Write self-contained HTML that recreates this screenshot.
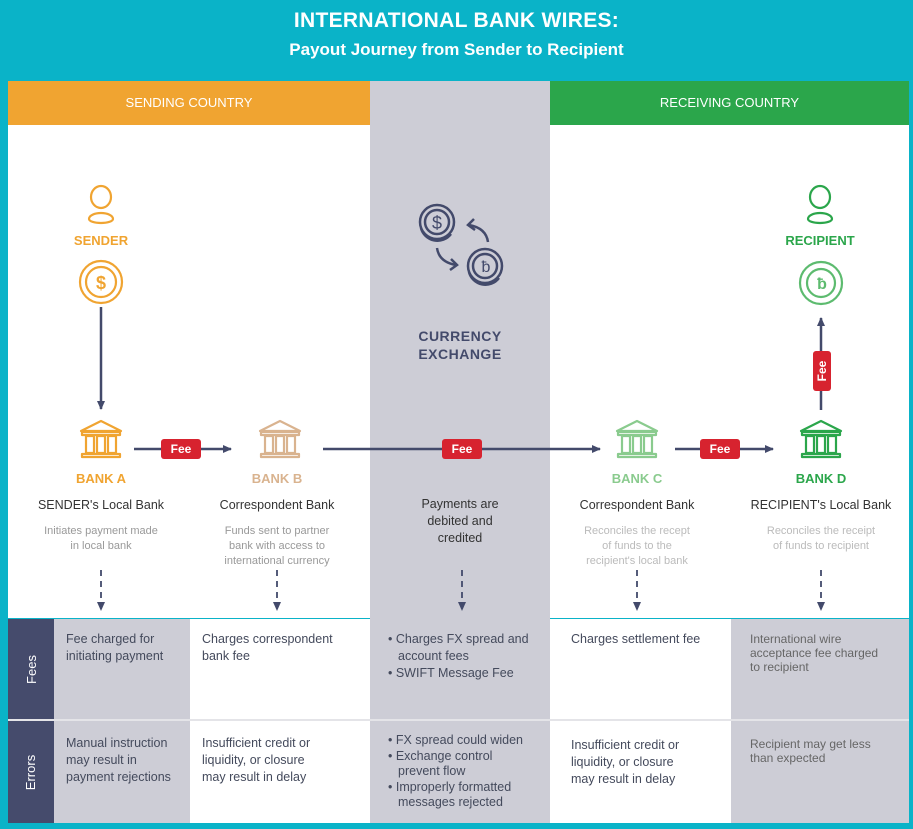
<!DOCTYPE html>
<html><head><meta charset="utf-8"><style>
*{margin:0;padding:0;box-sizing:border-box}
body{width:913px;height:829px;background:#0ab3c8;position:relative;overflow:hidden;font-family:"Liberation Sans",sans-serif}
.a{position:absolute}
.t{color:#fff;font-weight:bold;text-align:center;width:913px;left:0}
.c{text-align:center}
.cell{position:absolute;font-size:12.5px;line-height:17px;color:#444a5c;padding:12px 0 0 12px}
.cell ul{list-style:none}
.cell li{padding-left:10px;text-indent:-10px}
</style></head><body>
<div class="a t" style="top:9px;font-size:21px;letter-spacing:0.3px">INTERNATIONAL BANK WIRES:</div>
<div class="a t" style="top:40px;font-size:17px;font-weight:bold">Payout Journey from Sender to Recipient</div>

<div class="a" style="left:8px;top:81px;width:901px;height:537px;background:#fff"></div>
<div class="a" style="left:370px;top:81px;width:180px;height:742px;background:#cdcdd6"></div>
<div class="a c" style="left:8px;top:81px;width:362px;height:44px;background:#f0a431;color:#fff;font-size:13px;line-height:44px">SENDING COUNTRY</div>
<div class="a c" style="left:550px;top:81px;width:359px;height:44px;background:#2ba64b;color:#fff;font-size:13px;line-height:44px">RECEIVING COUNTRY</div>

<svg class="a" style="left:0;top:0" width="913" height="829">
<defs>
<marker id="ah" markerWidth="10" markerHeight="10" refX="8" refY="5" orient="auto" markerUnits="userSpaceOnUse"><path d="M0,1 L9,5 L0,9 z" fill="#434a6b"/></marker>
<symbol id="bank" viewBox="0 0 48 40"><g fill="none" stroke-width="2.2" stroke-linejoin="round">
<path d="M4,12 L24,2 L44,12 Z"/><rect x="5" y="13" width="38" height="3"/>
<rect x="9" y="17" width="8" height="17"/><rect x="20" y="17" width="8" height="17"/><rect x="31" y="17" width="8" height="17"/>
<rect x="5" y="35" width="38" height="3"/></g></symbol>
</defs>
<g stroke="#f0a431" fill="none" stroke-width="2.2">
<ellipse cx="101" cy="197" rx="10" ry="11"/><path d="M89,219 a12,6 0 0 1 24,0 a12,4 0 0 1 -24,0z"/>
<circle cx="101" cy="282" r="21"/><circle cx="101" cy="282" r="15"/>
</g>
<text x="101" y="289" font-size="18" font-weight="bold" fill="#f0a431" text-anchor="middle">$</text>
<g stroke="#2ba64b" fill="none" stroke-width="2.2">
<ellipse cx="820" cy="197" rx="10" ry="11"/><path d="M808,219 a12,6 0 0 1 24,0 a12,4 0 0 1 -24,0z"/>
<circle cx="821" cy="283" r="21" stroke="#5dbb6f"/><circle cx="821" cy="283" r="14" stroke="#5dbb6f"/>
</g>
<text x="822" y="289" font-size="16" font-weight="bold" fill="#5dbb6f" text-anchor="middle">ƀ</text>
<g stroke="#434a6b" fill="none" stroke-width="2.5">
<circle cx="437" cy="222" r="17"/><circle cx="437" cy="222" r="12"/><path d="M421,228 a17,17 0 0 0 30,6"/>
<circle cx="485" cy="266" r="17"/><circle cx="485" cy="266" r="12"/><path d="M469,272 a17,17 0 0 0 30,6"/>
<path d="M488,242 q-2,-14 -19,-17"/><path d="M474,219 l-6,6 l7,5"/>
<path d="M437,248 q2,14 19,17"/><path d="M451,259 l6,6 l-7,5"/>
</g>
<text x="437" y="229" font-size="18" fill="#434a6b" text-anchor="middle">$</text>
<text x="486" y="272" font-size="16" fill="#434a6b" text-anchor="middle">ƀ</text>
<g stroke="#434a6b" stroke-width="2.5" fill="none">
<line x1="101" y1="307" x2="101" y2="409" marker-end="url(#ah)"/>
<line x1="821" y1="410" x2="821" y2="318" marker-end="url(#ah)"/>
<line x1="134" y1="449" x2="231" y2="449" marker-end="url(#ah)"/>
<line x1="323" y1="449" x2="600" y2="449" marker-end="url(#ah)"/>
<line x1="675" y1="449" x2="773" y2="449" marker-end="url(#ah)"/>
</g>
<g stroke="#434a6b" stroke-width="1.8" stroke-dasharray="6,5" fill="none">
<line x1="101" y1="570" x2="101" y2="610" marker-end="url(#ah)"/>
<line x1="277" y1="570" x2="277" y2="610" marker-end="url(#ah)"/>
<line x1="462" y1="570" x2="462" y2="610" marker-end="url(#ah)"/>
<line x1="637" y1="570" x2="637" y2="610" marker-end="url(#ah)"/>
<line x1="821" y1="570" x2="821" y2="610" marker-end="url(#ah)"/>
</g>
<g fill="#d7232f">
<rect x="161" y="439" width="40" height="20" rx="3"/><rect x="442" y="439" width="40" height="20" rx="3"/>
<rect x="700" y="439" width="40" height="20" rx="3"/><rect x="813" y="351" width="18" height="40" rx="3"/>
</g>
<g fill="#fff" font-size="12" font-weight="bold" text-anchor="middle">
<text x="181" y="453">Fee</text><text x="462" y="453">Fee</text><text x="720" y="453">Fee</text>
<text transform="translate(826,371) rotate(-90)">Fee</text>
</g>
<use href="#bank" x="77" y="419" width="48" height="40" stroke="#f0a431"/>
<use href="#bank" x="256" y="419" width="48" height="40" stroke="#d9b38f"/>
<use href="#bank" x="613" y="419" width="48" height="40" stroke="#8acb8e"/>
<use href="#bank" x="797" y="419" width="48" height="40" stroke="#2ba64b"/>
</svg>

<div class="a c" style="left:51px;width:100px;top:233px;font-size:13px;font-weight:bold;color:#f0a431">SENDER</div>
<div class="a c" style="left:770px;width:100px;top:233px;font-size:13px;font-weight:bold;color:#2ba64b">RECIPIENT</div>
<div class="a c" style="left:370px;width:180px;top:327px;font-size:14px;font-weight:bold;color:#434a6b;line-height:18px;letter-spacing:0.5px">CURRENCY<br>EXCHANGE</div>

<div class="a c" style="left:41px;width:120px;top:471px;font-size:13px;font-weight:bold;color:#f0a431">BANK A</div>
<div class="a c" style="left:217px;width:120px;top:471px;font-size:13px;font-weight:bold;color:#d9b38f">BANK B</div>
<div class="a c" style="left:577px;width:120px;top:471px;font-size:13px;font-weight:bold;color:#8acb8e">BANK C</div>
<div class="a c" style="left:761px;width:120px;top:471px;font-size:13px;font-weight:bold;color:#2ba64b">BANK D</div>

<div class="a c" style="left:21px;width:160px;top:498px;font-size:12.5px;color:#333">SENDER's Local Bank</div>
<div class="a c" style="left:197px;width:160px;top:498px;font-size:12.5px;color:#333">Correspondent Bank</div>
<div class="a c" style="left:380px;width:160px;top:496px;font-size:12.5px;color:#333;line-height:17px">Payments are<br>debited and<br>credited</div>
<div class="a c" style="left:557px;width:160px;top:498px;font-size:12.5px;color:#333">Correspondent Bank</div>
<div class="a c" style="left:741px;width:160px;top:498px;font-size:12.5px;color:#333">RECIPIENT's Local Bank</div>

<div class="a c" style="left:21px;width:160px;top:524px;font-size:11px;color:#999;line-height:15px">Initiates payment made<br>in local bank</div>
<div class="a c" style="left:197px;width:160px;top:524px;font-size:11px;color:#999;line-height:15px">Funds sent to partner<br>bank with access to<br>international currency</div>
<div class="a c" style="left:557px;width:160px;top:524px;font-size:11px;color:#bbb;line-height:15px">Reconciles the recept<br>of funds to the<br>recipient's local bank</div>
<div class="a c" style="left:741px;width:160px;top:524px;font-size:11px;color:#bbb;line-height:15px">Reconciles the receipt<br>of funds to recipient</div>

<div class="a" style="left:8px;top:619px;width:46px;height:204px;background:#454b6c"></div>
<div class="a" style="left:16px;top:619px;width:30px;height:100px;color:#fff;font-size:13px;display:flex;align-items:center;justify-content:center"><span style="transform:rotate(-90deg)">Fees</span></div>
<div class="a" style="left:16px;top:721px;width:30px;height:102px;color:#fff;font-size:13px;display:flex;align-items:center;justify-content:center"><span style="transform:rotate(-90deg)">Errors</span></div>
<div class="a" style="left:54px;top:619px;width:136px;height:204px;background:#cdcdd6"></div>
<div class="a" style="left:190px;top:619px;width:180px;height:204px;background:#fff"></div>
<div class="a" style="left:550px;top:619px;width:181px;height:204px;background:#fff"></div>
<div class="a" style="left:731px;top:619px;width:178px;height:204px;background:#cdcdd6"></div>
<div class="a" style="left:8px;top:719px;width:901px;height:2px;background:#e4e4e8"></div>

<div class="cell" style="left:54px;top:619px">Fee charged for<br>initiating payment</div>
<div class="cell" style="left:190px;top:619px">Charges correspondent<br>bank fee</div>
<div class="cell" style="left:378px;top:619px;padding-left:10px"><ul><li>• Charges FX spread and<br>account fees</li><li>• SWIFT Message Fee</li></ul></div>
<div class="cell" style="left:559px;top:619px">Charges settlement fee</div>
<div class="cell" style="left:738px;top:620px;font-size:12px;line-height:14px;color:#666">International wire<br>acceptance fee charged<br>to recipient</div>

<div class="cell" style="left:54px;top:723px">Manual instruction<br>may result in<br>payment rejections</div>
<div class="cell" style="left:190px;top:723px">Insufficient credit or<br>liquidity, or closure<br>may result in delay</div>
<div class="cell" style="left:378px;top:721px;padding-left:10px;line-height:15.5px"><ul><li>• FX spread could widen</li><li>• Exchange control<br>prevent flow</li><li>• Improperly formatted<br>messages rejected</li></ul></div>
<div class="cell" style="left:559px;top:725px">Insufficient credit or<br>liquidity, or closure<br>may result in delay</div>
<div class="cell" style="left:738px;top:725px;font-size:12px;line-height:14px;color:#666">Recipient may get less<br>than expected</div>
</body></html>
